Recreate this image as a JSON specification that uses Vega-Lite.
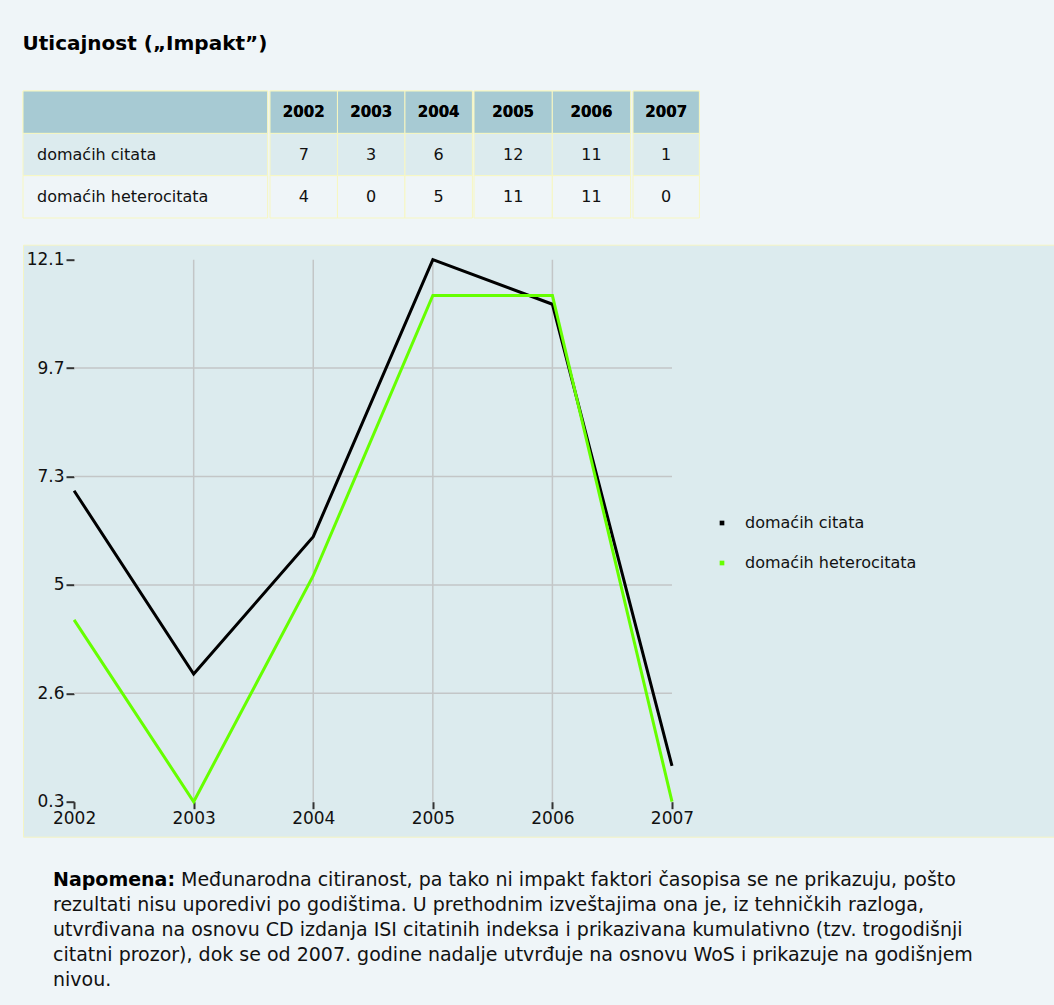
{
  "$schema": "https://vega.github.io/schema/vega-lite/v6.json",
  "background": "#eff5f8",
  "padding": {"left": 22, "top": 33, "right": 0, "bottom": 5},
  "spacing": 24.7,
  "title": {"text": "Uticajnost („Impakt”)", "anchor": "start", "fontSize": 20, "fontWeight": "bold", "font": "DejaVu Sans", "color": "#000000", "offset": 37},
  "datasets": {
    "impakt": [
      {"year": 2002, "series": "domaćih citata", "count": 7, "chart_value": 7.07},
      {"year": 2003, "series": "domaćih citata", "count": 3, "chart_value": 3.08},
      {"year": 2004, "series": "domaćih citata", "count": 6, "chart_value": 6.07},
      {"year": 2005, "series": "domaćih citata", "count": 12, "chart_value": 12.1},
      {"year": 2006, "series": "domaćih citata", "count": 11, "chart_value": 11.13},
      {"year": 2007, "series": "domaćih citata", "count": 1, "chart_value": 1.08},
      {"year": 2002, "series": "domaćih heterocitata", "count": 4, "chart_value": 4.26},
      {"year": 2003, "series": "domaćih heterocitata", "count": 0, "chart_value": 0.3},
      {"year": 2004, "series": "domaćih heterocitata", "count": 5, "chart_value": 5.22},
      {"year": 2005, "series": "domaćih heterocitata", "count": 11, "chart_value": 11.32},
      {"year": 2006, "series": "domaćih heterocitata", "count": 11, "chart_value": 11.32},
      {"year": 2007, "series": "domaćih heterocitata", "count": 0, "chart_value": 0.3}
    ],
    "yticks": [{"tick": 2.66}, {"tick": 5.02}, {"tick": 7.38}, {"tick": 9.74}],
    "note": [
      {"line": 1, "bold": "Napomena:", "text": "Međunarodna citiranost, pa tako ni impakt faktori časopisa se ne prikazuju, pošto"},
      {"line": 2, "bold": "", "text": "rezultati nisu uporedivi po godištima. U prethodnim izveštajima ona je, iz tehničkih razloga,"},
      {"line": 3, "bold": "", "text": "utvrđivana na osnovu CD izdanja ISI citatinih indeksa i prikazivana kumulativno (tzv. trogodišnji"},
      {"line": 4, "bold": "", "text": "citatni prozor), dok se od 2007. godine nadalje utvrđuje na osnovu WoS i prikazuje na godišnjem"},
      {"line": 5, "bold": "", "text": "nivou."}
    ]
  },
  "vconcat": [
    {
      "spacing": 0,
      "hconcat": [
        {
          "width": 244.6, "height": 127,
          "data": {"name": "impakt"},
          "transform": [{"filter": "datum.year === 2002"}],
          "layer": [
            {
              "mark": {"type": "rect", "stroke": "#f7f7c2", "strokeWidth": 1},
              "encoding": {
                "y": {"field": "series", "type": "nominal", "axis": null, "scale": {"domain": ["header", "domaćih citata", "domaćih heterocitata"], "paddingInner": 0, "paddingOuter": 0}},
                "fill": {"condition": {"test": "datum.series === 'domaćih citata'", "value": "#dcebee"}, "value": "#eff5f8"}
              }
            },
            {
              "mark": {"type": "rect", "stroke": "#f7f7c2", "strokeWidth": 1, "fill": "#a7cad3"},
              "encoding": {
                "y": {"datum": "header", "type": "nominal", "axis": null}
              }
            },
            {
              "mark": {"type": "text", "align": "left", "dx": 14, "font": "DejaVu Sans", "fontSize": 16, "color": "#111111"},
              "encoding": {
                "x": {"datum": 0, "type": "quantitative", "scale": {"domain": [0, 1]}, "axis": null},
                "y": {"field": "series", "type": "nominal", "axis": null},
                "text": {"field": "series"}
              }
            }
          ]
        },
        {
          "width": 202.4, "height": 127,
          "data": {"name": "impakt"},
          "transform": [{"filter": "datum.year <= 2004"}],
          "encoding": {"x": {"field": "year", "type": "ordinal", "axis": null, "scale": {"paddingInner": 0, "paddingOuter": 0}}},
          "layer": [
            {
              "mark": {"type": "rect", "stroke": "#f7f7c2", "strokeWidth": 1},
              "encoding": {
                "y": {"field": "series", "type": "nominal", "axis": null, "scale": {"domain": ["header", "domaćih citata", "domaćih heterocitata"], "paddingInner": 0, "paddingOuter": 0}},
                "fill": {"condition": {"test": "datum.series === 'domaćih citata'", "value": "#dcebee"}, "value": "#eff5f8"}
              }
            },
            {
              "mark": {"type": "rect", "stroke": "#f7f7c2", "strokeWidth": 1, "fill": "#a7cad3"},
              "encoding": {"y": {"datum": "header", "type": "nominal", "axis": null}}
            },
            {
              "mark": {"type": "text", "font": "DejaVu Sans", "fontSize": 16, "color": "#111111"},
              "encoding": {"y": {"field": "series", "type": "nominal", "axis": null}, "text": {"field": "count"}}
            },
            {
              "mark": {"type": "text", "font": "DejaVu Sans", "fontSize": 15, "fontWeight": "bold", "color": "#000000"},
              "encoding": {"y": {"datum": "header", "type": "nominal", "axis": null}, "text": {"field": "year", "type": "ordinal"}}
            }
          ]
        },
        {
          "width": 156.6, "height": 127,
          "data": {"name": "impakt"},
          "transform": [{"filter": "datum.year >= 2005 && datum.year <= 2006"}],
          "encoding": {"x": {"field": "year", "type": "ordinal", "axis": null, "scale": {"paddingInner": 0, "paddingOuter": 0}}},
          "layer": [
            {
              "mark": {"type": "rect", "stroke": "#f7f7c2", "strokeWidth": 1},
              "encoding": {
                "y": {"field": "series", "type": "nominal", "axis": null, "scale": {"domain": ["header", "domaćih citata", "domaćih heterocitata"], "paddingInner": 0, "paddingOuter": 0}},
                "fill": {"condition": {"test": "datum.series === 'domaćih citata'", "value": "#dcebee"}, "value": "#eff5f8"}
              }
            },
            {
              "mark": {"type": "rect", "stroke": "#f7f7c2", "strokeWidth": 1, "fill": "#a7cad3"},
              "encoding": {"y": {"datum": "header", "type": "nominal", "axis": null}}
            },
            {
              "mark": {"type": "text", "font": "DejaVu Sans", "fontSize": 16, "color": "#111111"},
              "encoding": {"y": {"field": "series", "type": "nominal", "axis": null}, "text": {"field": "count"}}
            },
            {
              "mark": {"type": "text", "font": "DejaVu Sans", "fontSize": 15, "fontWeight": "bold", "color": "#000000"},
              "encoding": {"y": {"datum": "header", "type": "nominal", "axis": null}, "text": {"field": "year", "type": "ordinal"}}
            }
          ]
        },
        {
          "width": 66.4, "height": 127,
          "data": {"name": "impakt"},
          "transform": [{"filter": "datum.year === 2007"}],
          "encoding": {"x": {"field": "year", "type": "ordinal", "axis": null, "scale": {"paddingInner": 0, "paddingOuter": 0}}},
          "layer": [
            {
              "mark": {"type": "rect", "stroke": "#f7f7c2", "strokeWidth": 1},
              "encoding": {
                "y": {"field": "series", "type": "nominal", "axis": null, "scale": {"domain": ["header", "domaćih citata", "domaćih heterocitata"], "paddingInner": 0, "paddingOuter": 0}},
                "fill": {"condition": {"test": "datum.series === 'domaćih citata'", "value": "#dcebee"}, "value": "#eff5f8"}
              }
            },
            {
              "mark": {"type": "rect", "stroke": "#f7f7c2", "strokeWidth": 1, "fill": "#a7cad3"},
              "encoding": {"y": {"datum": "header", "type": "nominal", "axis": null}}
            },
            {
              "mark": {"type": "text", "font": "DejaVu Sans", "fontSize": 16, "color": "#111111"},
              "encoding": {"y": {"field": "series", "type": "nominal", "axis": null}, "text": {"field": "count"}}
            },
            {
              "mark": {"type": "text", "font": "DejaVu Sans", "fontSize": 15, "fontWeight": "bold", "color": "#000000"},
              "encoding": {"y": {"datum": "header", "type": "nominal", "axis": null}, "text": {"field": "year", "type": "ordinal"}}
            }
          ]
        }
      ]
    },
    {
      "width": 1031, "height": 592,
      "view": {"fill": "#dcebee", "stroke": "#f4f4c4", "strokeWidth": 1},
      "layer": [
        {
          "data": {"name": "impakt"},
          "transform": [{"filter": "datum.series === 'domaćih citata' && datum.year > 2002 && datum.year < 2007"}],
          "mark": {"type": "rule", "color": "#c3c6c7", "strokeWidth": 1.5},
          "encoding": {
            "x": {"field": "year", "type": "quantitative", "scale": {"domain": [2001.5727, 2010.1945], "nice": false, "zero": false}, "axis": {"orient": "bottom", "offset": -35, "values": [2002, 2003, 2004, 2005, 2006, 2007], "format": "d", "title": null, "domain": false, "grid": false, "tickSize": 7, "tickWidth": 2, "tickColor": "#333333", "labelFont": "DejaVu Sans", "labelFontSize": 17, "labelColor": "#111111", "labelPadding": 2, "labelFlush": false, "labelOverlap": false, "labelBound": false}},
            "y": {"datum": 0.3, "type": "quantitative", "scale": {"domain": [-0.462, 12.4266], "nice": false, "zero": false}, "axis": {"orient": "left", "offset": -51, "values": [0.3, 2.66, 5.02, 7.38, 9.74, 12.1], "labelExpr": "floor(datum.value*10+0.0001)/10", "title": null, "domain": false, "grid": false, "tickSize": 8, "tickWidth": 2, "tickColor": "#333333", "labelFont": "DejaVu Sans", "labelFontSize": 17, "labelColor": "#111111", "labelPadding": 2, "labelFlush": false, "labelOverlap": false, "labelBound": false}},
            "y2": {"datum": 12.1}
          }
        },
        {
          "data": {"name": "yticks"},
          "mark": {"type": "rule", "color": "#c3c6c7", "strokeWidth": 1.5},
          "encoding": {
            "x": {"datum": 2002, "type": "quantitative"},
            "x2": {"datum": 2007},
            "y": {"field": "tick", "type": "quantitative"}
          }
        },
        {
          "mark": {"type": "rule", "color": "#333333", "strokeWidth": 2},
          "encoding": {
            "x": {"datum": 2002, "type": "quantitative"},
            "x2": {"datum": 2007},
            "y": {"datum": 0.3, "type": "quantitative"}
          }
        },
        {
          "mark": {"type": "rule", "color": "#333333", "strokeWidth": 2},
          "encoding": {
            "x": {"datum": 2002, "type": "quantitative"},
            "y": {"datum": 0.3, "type": "quantitative"},
            "y2": {"datum": 12.1}
          }
        },
        {
          "data": {"name": "impakt"},
          "mark": {"type": "line", "strokeWidth": 3},
          "encoding": {
            "x": {"field": "year", "type": "quantitative"},
            "y": {"field": "chart_value", "type": "quantitative"},
            "color": {
              "field": "series", "type": "nominal",
              "scale": {"domain": ["domaćih citata", "domaćih heterocitata"], "range": ["#000000", "#66ff00"]},
              "legend": {"title": null, "orient": "none", "legendX": 691, "legendY": 424, "padding": 0, "symbolType": "square", "symbolSize": 22, "symbolStrokeWidth": 0, "labelFontSize": 16, "labelFont": "DejaVu Sans", "labelColor": "#111111", "labelLimit": 0, "rowPadding": 24, "labelOffset": 15, "encode": {"symbols": {"update": {"fill": {"scale": "color", "field": "value"}, "fillOpacity": {"value": 1}}}}}
            }
          }
        }
      ]
    },
    {
      "width": 1031, "height": 137,
      "data": {"name": "note"},
      "encoding": {
        "x": {"datum": 0, "type": "quantitative", "scale": {"domain": [0, 1]}, "axis": null},
        "y": {"field": "line", "type": "quantitative", "axis": null, "scale": {"domain": [0.28, 5.76], "reverse": true, "nice": false, "zero": false}}
      },
      "layer": [
        {
          "transform": [{"filter": "datum.line === 1"}],
          "mark": {"type": "text", "align": "left", "dx": 30, "font": "DejaVu Sans", "fontSize": 19, "fontWeight": "bold", "color": "#000000"},
          "encoding": {"text": {"field": "bold"}}
        },
        {
          "transform": [{"filter": "datum.line === 1"}],
          "mark": {"type": "text", "align": "left", "dx": 158, "font": "DejaVu Sans", "fontSize": 19, "color": "#111111"},
          "encoding": {"text": {"field": "text"}}
        },
        {
          "transform": [{"filter": "datum.line > 1"}],
          "mark": {"type": "text", "align": "left", "dx": 30, "font": "DejaVu Sans", "fontSize": 19, "color": "#111111"},
          "encoding": {"text": {"field": "text"}}
        }
      ]
    }
  ],
  "config": {"view": {"stroke": null}}
}
